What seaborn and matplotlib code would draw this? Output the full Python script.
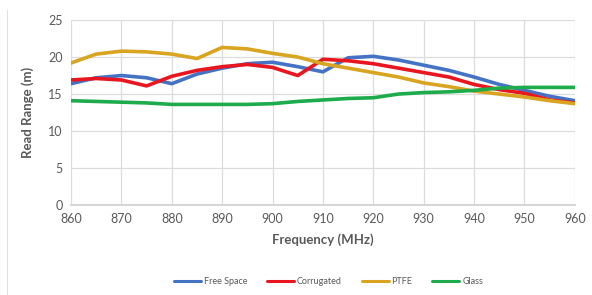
import pandas as pd
import matplotlib.pyplot as plt
import seaborn as sns
from matplotlib.lines import Line2D

# read range (m) vs frequency, every 5 MHz
freq = [860, 865, 870, 875, 880, 885, 890, 895, 900, 905, 910,
        915, 920, 925, 930, 935, 940, 945, 950, 955, 960]
free_space = [16.4, 17.2, 17.5, 17.2, 16.4, 17.7, 18.5, 19.1, 19.3, 18.7, 18.0,
              19.9, 20.1, 19.6, 18.9, 18.2, 17.3, 16.3, 15.5, 14.7, 14.1]
corrugated = [16.9, 17.1, 16.9, 16.1, 17.4, 18.2, 18.7, 19.0, 18.6, 17.5, 19.7,
              19.5, 19.1, 18.5, 17.9, 17.3, 16.3, 15.6, 15.1, 14.2, 13.8]
ptfe = [19.2, 20.4, 20.8, 20.7, 20.4, 19.8, 21.3, 21.1, 20.5, 20.0, 19.1,
        18.5, 17.9, 17.3, 16.5, 16.0, 15.4, 15.0, 14.6, 14.1, 13.7]
glass = [14.1, 14.0, 13.9, 13.8, 13.6, 13.6, 13.6, 13.6, 13.7, 14.0, 14.2,
         14.4, 14.5, 15.0, 15.2, 15.3, 15.5, 15.8, 15.9, 15.9, 15.9]

series_names = ['Free Space', 'Corrugated', 'PTFE', 'Glass']
colors = ['#4472C4', '#E8171F', '#D9A521', '#1EAB4B']

df = pd.DataFrame({'Frequency': freq, 'Free Space': free_space,
                   'Corrugated': corrugated, 'PTFE': ptfe, 'Glass': glass})
long_df = df.melt(id_vars='Frequency', var_name='Material', value_name='Range')

sns.set_theme(style='whitegrid')
plt.rcParams['font.family'] = ['Lato', 'DejaVu Sans']

fig, ax = plt.subplots(figsize=(5.92, 2.95), dpi=100)
fig.subplots_adjust(left=0.12, right=0.971, top=0.932, bottom=0.305)

sns.lineplot(data=long_df, x='Frequency', y='Range', hue='Material',
             hue_order=series_names, palette=colors, linewidth=2.6,
             ax=ax, legend=False)
for line in ax.get_lines():
    line.set_solid_joinstyle('round')
    line.set_solid_capstyle('round')

ax.set_xlim(860, 960)
ax.set_ylim(0, 25)
ax.set_xticks(range(860, 961, 10))
ax.set_yticks(range(0, 26, 5))
ax.grid(True, color='#DCDCDC', linewidth=0.9)
for side in ['top', 'right', 'left']:
    ax.spines[side].set_visible(False)
ax.spines['bottom'].set_color('#D0D0D0')
ax.tick_params(axis='both', colors='#595959', labelsize=9, length=0, pad=6)

ax.set_xlabel('Frequency (MHz)', fontsize=9.5, fontweight='bold', color='#595959', labelpad=6)
ax.set_ylabel('Read Range (m)', fontsize=9.5, fontweight='bold', color='#595959', labelpad=10)

handles = [Line2D([0], [0], color=c, linewidth=2.2) for c in colors]
fig.legend(handles, series_names, loc='center', bbox_to_anchor=(0.555, 0.045),
           ncol=4, frameon=False, fontsize=6.5, handlelength=3.0,
           handletextpad=0.3, columnspacing=2.2, labelcolor='#595959')

# faint chart border on the left
fig.add_artist(Line2D([0.012, 0.012], [0.0, 0.965], color='#E0E0E0', linewidth=0.8))

fig.savefig('out.png', dpi=100)
